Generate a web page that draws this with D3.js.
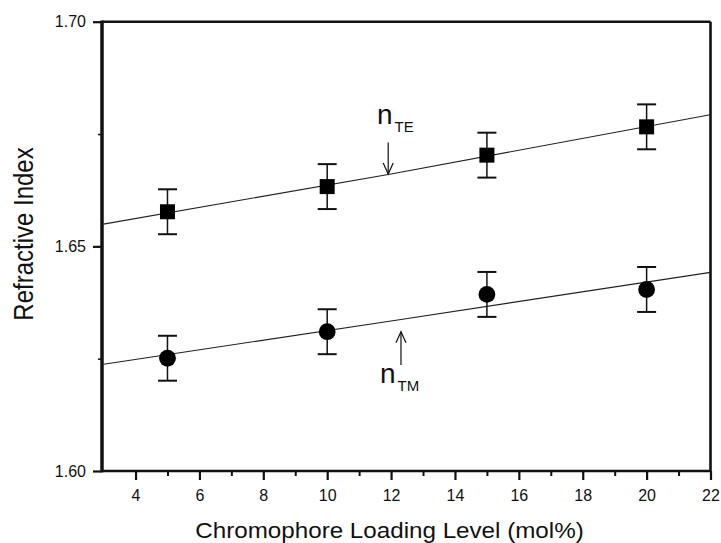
<!DOCTYPE html>
<html>
<head>
<meta charset="utf-8">
<script src="https://cdn.jsdelivr.net/npm/d3@7"></script>
<style>
  body { margin: 0; background: #fff; }
  text { font-family: "Liberation Sans", Arial, sans-serif; fill: #111; }
</style>
</head>
<body>
<div id="chart-area"></div>
<script>
// data
let loading = [5, 10, 15, 20]
let nTE = [1.6577, 1.6633, 1.6703, 1.6766]
let nTM = [1.6251, 1.6310, 1.6393, 1.6404]
let errTE = [0.005, 0.005, 0.005, 0.005]
let errTM = [0.005, 0.005, 0.005, 0.005]

let fitLoading = [2.95, 12, 22]
let fitTE = [1.6549, 1.6661, 1.6793]
let fitTM = [1.6237, 1.6334, 1.6442]

let xTicks = [4, 6, 8, 10, 12, 14, 16, 18, 20, 22]
let xMinor = [5, 7, 9, 11, 13, 15, 17, 19, 21]
let yTicks = [1.60, 1.65, 1.70]
let yMinor = [1.625, 1.675]

let width = 721, height = 543

let svg = d3.select("#chart-area").append("svg")
  .attr("width", width)
  .attr("height", height)

let x = d3.scaleLinear().domain([2.95, 22]).range([102, 710.5])
let y = d3.scaleLinear().domain([1.60, 1.70]).range([471, 21.7])

// minor ticks
svg.append("g")
  .attr("transform", "translate(0,471)")
  .call(d3.axisBottom(x).tickValues(xMinor).tickSize(5).tickFormat(""))
  .call(g => g.select(".domain").remove())
  .call(g => g.selectAll("line").attr("stroke", "#111").attr("stroke-width", 2))

svg.append("g")
  .attr("transform", "translate(102,0)")
  .call(d3.axisLeft(y).tickValues(yMinor).tickSize(4).tickFormat(""))
  .call(g => g.select(".domain").remove())
  .call(g => g.selectAll("line").attr("stroke", "#111").attr("stroke-width", 1.5))

// major ticks
svg.append("g")
  .attr("transform", "translate(0,471)")
  .call(d3.axisBottom(x).tickValues(xTicks).tickSize(9).tickPadding(10))
  .call(g => g.select(".domain").remove())
  .call(g => g.selectAll("line").attr("stroke", "#111").attr("stroke-width", 2.2))
  .call(g => g.selectAll("text").attr("font-size", 16).attr("font-family", "Liberation Sans, Arial, sans-serif"))

svg.append("g")
  .attr("transform", "translate(102,0)")
  .call(d3.axisLeft(y).tickValues(yTicks).tickSize(9).tickPadding(7).tickFormat(d => d.toFixed(2)))
  .call(g => g.select(".domain").remove())
  .call(g => g.selectAll("line").attr("stroke", "#111").attr("stroke-width", 2.2))
  .call(g => g.selectAll("text").attr("font-size", 16).attr("font-family", "Liberation Sans, Arial, sans-serif"))

// frame
let frame = svg.append("g").attr("stroke", "#111").attr("fill", "none")
frame.append("line").attr("x1", x(2.95)).attr("x2", x(22)).attr("y1", y(1.70)).attr("y2", y(1.70)).attr("stroke-width", 2.6)
frame.append("line").attr("x1", x(2.95)).attr("x2", x(22)).attr("y1", y(1.60)).attr("y2", y(1.60)).attr("stroke-width", 2.6)
frame.append("line").attr("x1", x(22)).attr("x2", x(22)).attr("y1", y(1.70)).attr("y2", y(1.60)).attr("stroke-width", 2.6)
frame.append("line").attr("x1", x(2.95)).attr("x2", x(2.95)).attr("y1", y(1.70) - 1.3).attr("y2", y(1.60) + 1.3).attr("stroke-width", 3.5)

// fit curves
let line = d3.line()
  .x(d => x(d[0]))
  .y(d => y(d[1]))
  .curve(d3.curveMonotoneX)

svg.append("path")
  .datum(fitLoading.map((v, i) => [v, fitTE[i]]))
  .attr("d", line)
  .attr("fill", "none").attr("stroke", "#222").attr("stroke-width", 1.1)

svg.append("path")
  .datum(fitLoading.map((v, i) => [v, fitTM[i]]))
  .attr("d", line)
  .attr("fill", "none").attr("stroke", "#222").attr("stroke-width", 1.1)

// error bars
function errorBars(values, errs) {
  let g = svg.append("g").attr("stroke", "#111")
  let rows = loading.map((v, i) => ({ x: v, y: values[i], e: errs[i] }))
  g.selectAll(".stem").data(rows).enter().append("line")
    .attr("x1", d => x(d.x)).attr("x2", d => x(d.x))
    .attr("y1", d => y(d.y + d.e)).attr("y2", d => y(d.y - d.e))
    .attr("stroke-width", 1.5)
  g.selectAll(".cap-top").data(rows).enter().append("line")
    .attr("x1", d => x(d.x) - 9.5).attr("x2", d => x(d.x) + 9.5)
    .attr("y1", d => y(d.y + d.e)).attr("y2", d => y(d.y + d.e))
    .attr("stroke-width", 2)
  g.selectAll(".cap-bottom").data(rows).enter().append("line")
    .attr("x1", d => x(d.x) - 9.5).attr("x2", d => x(d.x) + 9.5)
    .attr("y1", d => y(d.y - d.e)).attr("y2", d => y(d.y - d.e))
    .attr("stroke-width", 2)
}
errorBars(nTE, errTE)
errorBars(nTM, errTM)

// markers
svg.selectAll(".sq").data(loading).enter().append("rect")
  .attr("x", (d) => x(d) - 7.5)
  .attr("y", (d, i) => y(nTE[i]) - 7.5)
  .attr("width", 15).attr("height", 15)
  .attr("fill", "#000")

svg.selectAll(".dot").data(loading).enter().append("circle")
  .attr("cx", (d) => x(d))
  .attr("cy", (d, i) => y(nTM[i]))
  .attr("r", 8.4)
  .attr("fill", "#000")

// arrows + labels
function arrow(xv, yFrom, yTo) {
  let x0 = x(xv), y0 = y(yFrom), y1 = y(yTo)
  let dir = y1 > y0 ? 1 : -1
  let g = svg.append("g").attr("stroke", "#111").attr("fill", "none").attr("stroke-width", 1.2)
  g.append("line").attr("x1", x0).attr("x2", x0).attr("y1", y0).attr("y2", y1)
  g.append("path").attr("d", `M${x0 - 5},${y1 - dir * 11}L${x0},${y1}L${x0 + 5},${y1 - dir * 11}`)
}
arrow(11.91, 1.6731, 1.6661)
arrow(12.31, 1.6236, 1.6310)

function label(px, py, sub) {
  let t = svg.append("text").attr("x", px).attr("y", py).attr("font-size", 28)
  t.append("tspan").text("n")
  t.append("tspan").attr("font-size", 15).attr("dy", 7.4).attr("dx", 2).text(sub)
}
label(377, 124.3, "TE")
label(380, 383.3, "TM")

// axis titles
svg.append("text")
  .attr("transform", "translate(389.5,538) scale(1.1,1)")
  .attr("text-anchor", "middle")
  .attr("font-size", 22)
  .text("Chromophore Loading Level (mol%)")

svg.append("text")
  .attr("transform", "translate(33,234) scale(1.15,1) rotate(-90)")
  .attr("text-anchor", "middle")
  .attr("font-size", 24)
  .text("Refractive Index")
</script>
</body>
</html>
